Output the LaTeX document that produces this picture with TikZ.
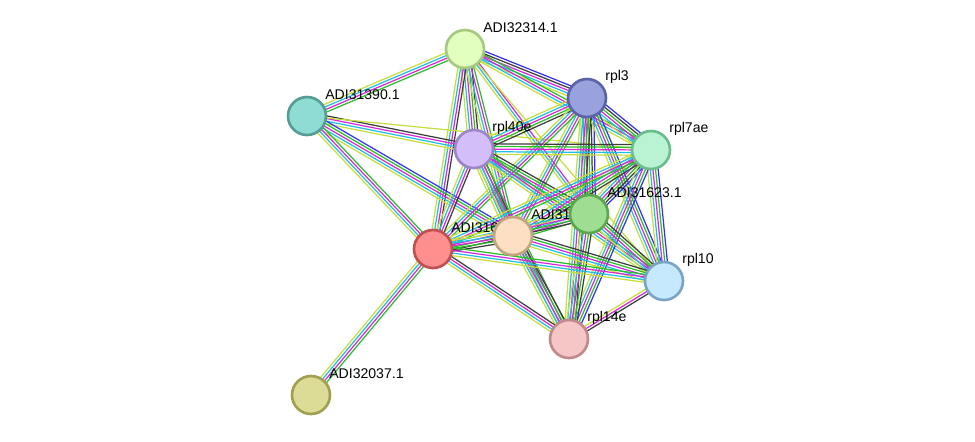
\documentclass[tikz,border=0pt]{standalone}
\usepackage{fontspec}
\setmainfont{Liberation Sans}
\usetikzlibrary{calc}
\definecolor{ctxt}{RGB}{199,222,60}
\definecolor{cdb}{RGB}{30,190,230}
\definecolor{cexp}{RGB}{215,40,215}
\definecolor{cnb}{RGB}{40,190,40}
\definecolor{cco}{RGB}{60,60,60}
\definecolor{cblu}{RGB}{50,50,240}
\tikzset{
  prot/.style={circle,draw,line width=1.5pt,minimum size=0.76cm,inner sep=0pt},
  lbl/.style={anchor=west,font=\fontsize{8pt}{9pt}\selectfont,inner sep=0pt},
}
% one coloured bundle between two proteins
\newcommand\lnk[3]{%
  \foreach \c [count=\n] in {#3}{\xdef\nlk{\n}}%
  \foreach \c [count=\i] in {#3}{%
    \pgfmathsetmacro\off{(\i-(\nlk+1)/2)*1.5}%
    \draw[\c,line width=0.7pt] ($(#1.center)!\off pt!90:(#2.center)$) -- ($(#2.center)!\off pt!-90:(#1.center)$);
  }%
}
\begin{document}
\begin{tikzpicture}[x=0.02cm,y=-0.02cm]
\useasboundingbox (0,0) rectangle (975,441);
% positions
\coordinate (S) at (465,49);
\coordinate (R3) at (587,98);
\coordinate (C1) at (307,116);
\coordinate (R40) at (474,149);
\coordinate (R7) at (651,150);
\coordinate (G) at (589,214);
\coordinate (P) at (513,236);
\coordinate (Rd) at (433,249);
\coordinate (R10) at (664,281);
\coordinate (R14) at (569,339);
\coordinate (Y) at (311,395);
%
\lnk{S}{R3}{ctxt,cdb,cexp,cco,cblu}
\lnk{S}{C1}{ctxt,cdb,cexp,cnb}
\lnk{S}{R40}{ctxt,cdb,cexp,cnb,cco}
\lnk{S}{R7}{ctxt,cdb,cexp,cnb}
\lnk{S}{G}{ctxt,cdb,cexp}
\lnk{S}{P}{ctxt,cdb,cexp,cnb}
\lnk{S}{Rd}{ctxt,cdb,cexp,cco}
\lnk{S}{R10}{ctxt}
\lnk{C1}{R40}{ctxt,cdb,cexp,cco}
\lnk{C1}{R7}{ctxt}
\lnk{C1}{P}{ctxt,cdb,cexp,cnb,cblu}
\lnk{C1}{Rd}{ctxt,cdb,cexp,cnb}
\lnk{R3}{R40}{ctxt,cdb,cexp,cnb,cco}
\lnk{R3}{R7}{ctxt,cdb,cexp,cnb,cco,cblu}
\lnk{R3}{G}{ctxt,cdb,cexp,cnb,cco,cblu}
\lnk{R3}{P}{ctxt,cdb,cexp,cnb}
\lnk{R3}{Rd}{ctxt,cdb,cexp,cnb}
\lnk{R3}{R10}{ctxt,cdb,cexp,cnb,cblu}
\lnk{R3}{R14}{ctxt,cdb,cexp,cnb,cco}
\lnk{R40}{R7}{ctxt,cdb,cexp,cnb,cco}
\lnk{R40}{G}{ctxt,cdb,cexp,cnb,cco}
\lnk{R40}{P}{ctxt,cdb,cexp,cnb,cco}
\lnk{R40}{Rd}{ctxt,cdb,cexp,cco}
\lnk{R40}{R10}{ctxt,cdb,cexp,cnb}
\lnk{R40}{R14}{ctxt,cdb,cexp,cnb}
\lnk{R7}{G}{ctxt,cdb,cexp,cnb,cco,cblu}
\lnk{R7}{P}{ctxt,cdb,cexp,cnb,cco}
\lnk{R7}{Rd}{ctxt,cdb,cexp,cnb}
\lnk{R7}{R10}{ctxt,cdb,cexp,cnb,cblu}
\lnk{R7}{R14}{ctxt,cdb,cexp,cnb,cblu}
\lnk{G}{P}{ctxt,cdb,cexp,cnb}
\lnk{G}{Rd}{ctxt,cdb,cexp,cnb,cco}
\lnk{G}{R10}{ctxt,cdb,cexp,cnb,cco}
\lnk{G}{R14}{ctxt,cdb,cexp,cnb,cco}
\lnk{P}{Rd}{ctxt,cdb,cexp,cnb,cco}
\lnk{P}{R10}{ctxt,cdb,cexp,cnb,cco}
\lnk{P}{R14}{ctxt,cdb,cexp,cnb,cco}
\lnk{Rd}{R10}{ctxt,cdb,cexp,cnb}
\lnk{Rd}{R14}{ctxt,cdb,cexp,cco}
\lnk{Rd}{Y}{ctxt,cdb,cexp,cnb}
\lnk{R10}{R14}{ctxt,cexp,cco}
%
\foreach \p/\t in {S/ADI32314.1,R3/rpl3,C1/ADI31390.1,R40/rpl40e,R7/rpl7ae,G/ADI31623.1,P/ADI31618.1,Rd/ADI31607.1,R10/rpl10,R14/rpl14e,Y/ADI32037.1}
  \node[lbl] (l\p) at ($(\p)+(18,-21)$) {\t};
%
\node[prot,fill={rgb,255:red,226;green,255;blue,192},draw={rgb,255:red,165;green,201;blue,127}] (nS) at (S) {};
\node[prot,fill={rgb,255:red,154;green,162;blue,222},draw={rgb,255:red,90;green,98;blue,168}] (nR3) at (R3) {};
\node[prot,fill={rgb,255:red,143;green,220;blue,212},draw={rgb,255:red,85;green,156;blue,147}] (nC1) at (C1) {};
\node[prot,fill={rgb,255:red,212;green,190;blue,250},draw={rgb,255:red,156;green,134;blue,200}] (nR40) at (R40) {};
\node[prot,fill={rgb,255:red,185;green,243;blue,211},draw={rgb,255:red,107;green,189;blue,139}] (nR7) at (R7) {};
\node[prot,fill={rgb,255:red,159;green,221;blue,147},draw={rgb,255:red,92;green,166;blue,79}] (nG) at (G) {};
\node[prot,fill={rgb,255:red,253;green,224;blue,195},draw={rgb,255:red,196;green,164;blue,127}] (nP) at (P) {};
\node[prot,fill={rgb,255:red,255;green,142;blue,142},draw={rgb,255:red,192;green,80;blue,80}] (nRd) at (Rd) {};
\node[prot,fill={rgb,255:red,198;green,233;blue,253},draw={rgb,255:red,122;green,164;blue,196}] (nR10) at (R10) {};
\node[prot,fill={rgb,255:red,246;green,197;blue,197},draw={rgb,255:red,193;green,138;blue,138}] (nR14) at (R14) {};
\node[prot,fill={rgb,255:red,220;green,220;blue,150},draw={rgb,255:red,160;green,160;blue,80}] (nY) at (Y) {};
\end{tikzpicture}
\end{document}
